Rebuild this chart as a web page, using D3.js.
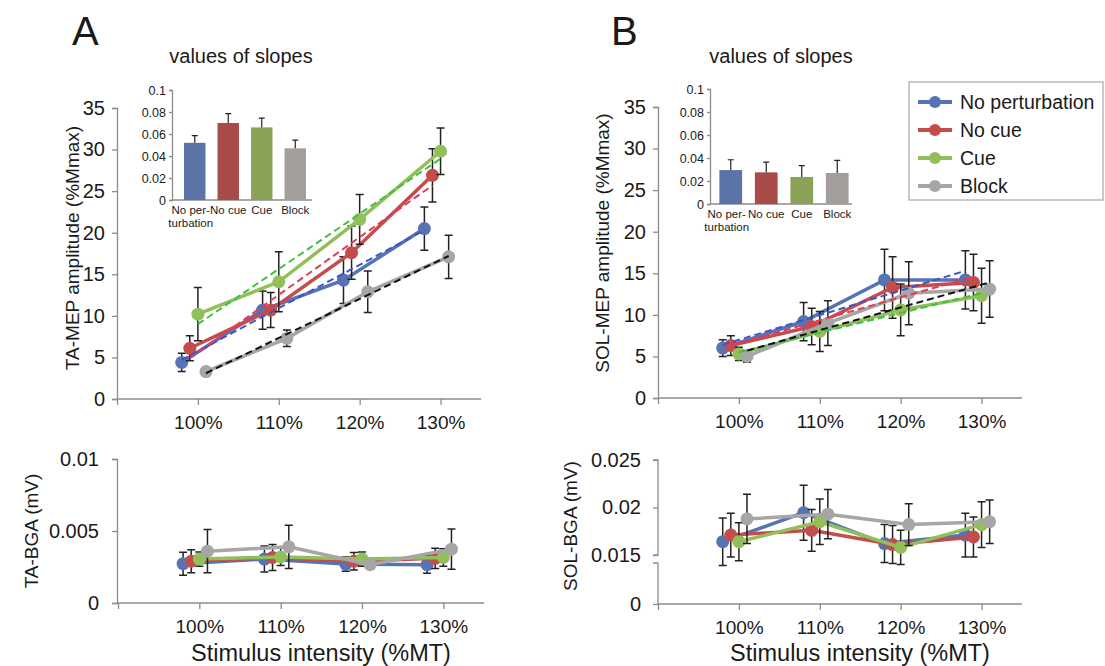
<!DOCTYPE html>
<html>
<head>
<meta charset="utf-8">
<script src="https://cdn.jsdelivr.net/npm/d3@7"></script>
<style>
  body { margin: 0; background: #fff; }
  svg { font-family: "Liberation Sans", Arial, sans-serif; }
</style>
</head>
<body>
<div id="chart"></div>
<script>
// conditions and stimulus intensities
const conditions = ['No perturbation', 'No cue', 'Cue', 'Block'];
const slopeLabels = [['No per-', 'turbation'], ['No cue'], ['Cue'], ['Block']];
const intensities = [100, 110, 120, 130];

// TA-MEP amplitude (%Mmax), one row per condition
const taMepMean = [
    [4.4, 10.7, 14.3, 20.5],
    [6.1, 10.7, 17.6, 26.9],
    [10.2, 14.1, 21.6, 29.8],
    [3.3, 7.3, 12.9, 17.1]
];
const taMepErr = [
    [1.1, 2.3, 2.8, 2.6],
    [1.5, 2.1, 3.2, 3.2],
    [3.2, 3.6, 3.0, 2.8],
    [0.5, 1.0, 2.5, 2.6]
];
// linear fit, value at first and last intensity
const taMepFit = [[4.7, 20.3], [4.9, 25.7], [9.0, 28.9], [3.1, 17.2]];

// SOL-MEP amplitude (%Mmax)
const solMepMean = [
    [6.0, 9.2, 14.2, 14.2],
    [6.3, 8.6, 13.3, 13.9],
    [5.3, 8.0, 10.6, 12.3],
    [5.0, 9.0, 12.6, 13.1]
];
const solMepErr = [
    [1.0, 2.3, 3.7, 3.5],
    [1.2, 2.2, 3.7, 3.4],
    [0.8, 2.4, 3.1, 3.3],
    [0.7, 2.7, 3.8, 3.4]
];
const solMepFit = [[6.4, 15.3], [6.3, 14.6], [5.5, 12.6], [5.7, 13.9]];

// values of slopes
const taSlope = [0.052, 0.070, 0.066, 0.047];
const taSlopeErr = [0.0065, 0.0085, 0.0085, 0.0075];
const solSlope = [0.0295, 0.0275, 0.0235, 0.027];
const solSlopeErr = [0.009, 0.009, 0.0098, 0.011];

// background EMG (mV)
const taBgaMean = [
    [0.00273, 0.00305, 0.0027, 0.00266],
    [0.0029, 0.00316, 0.0029, 0.0031],
    [0.00305, 0.0032, 0.00305, 0.00316],
    [0.0036, 0.0039, 0.00266, 0.00374]
];
const taBgaErr = [
    [0.0008, 0.0009, 0.0005, 0.0006],
    [0.0008, 0.0009, 0.0006, 0.0007],
    [0.0005, 0.0006, 0.0005, 0.0006],
    [0.0015, 0.0015, 0.0003, 0.0014]
];
const solBgaMean = [
    [0.0164, 0.01945, 0.0162, 0.0171],
    [0.0171, 0.0176, 0.0161, 0.0169],
    [0.0164, 0.0185, 0.0158, 0.0182],
    [0.0188, 0.0193, 0.0182, 0.0185]
];
const solBgaErr = [
    [0.0025, 0.0029, 0.002, 0.0023],
    [0.0023, 0.0022, 0.002, 0.0021],
    [0.002, 0.0024, 0.0018, 0.0024],
    [0.0026, 0.0026, 0.0022, 0.0023]
];

const lineColors = ['#5674b4', '#c44c4a', '#93bf5a', '#a6a6a6'];
const fitColors = ['#3d57c2', '#e6395a', '#3fc042', '#111111'];
const barColors = ['#5b73a7', '#a84b48', '#8aa257', '#a39d9b'];
const jitter = [-2, -1, 0, 1];
const axisColor = '#8c8c8c';

const svg = d3.select('#chart').append('svg')
    .attr('width', 1105)
    .attr('height', 666);

function styleAxis(g, fontSize) {
    g.select('.domain').attr('stroke', axisColor).attr('stroke-width', 1.3);
    g.selectAll('.tick line').attr('stroke', axisColor).attr('stroke-width', 1.3);
    g.selectAll('.tick text').attr('fill', '#1a1a1a').style('font-size', fontSize + 'px');
}

function drawSeries(x, y, mean, err, fit) {
    const layer = svg.append('g');
    mean.forEach((vals, s) => {
        const pts = vals.map((v, i) => ({ x: intensities[i] + jitter[s], v: v, e: err[s][i] }));
        const eg = layer.append('g');
        pts.forEach(p => {
            const y0 = y(p.v - p.e), y1 = y(p.v + p.e), cx = x(p.x);
            eg.append('path')
                .attr('d', `M${cx},${y0}V${y1}M${cx - 4},${y0}H${cx + 4}M${cx - 4},${y1}H${cx + 4}`)
                .attr('stroke', '#222').attr('stroke-width', 1.5).attr('fill', 'none');
        });
        layer.append('path')
            .datum(pts)
            .attr('d', d3.line().x(d => x(d.x)).y(d => y(d.v)))
            .attr('fill', 'none')
            .attr('stroke', lineColors[s])
            .attr('stroke-width', 3.5);
        layer.selectAll(null)
            .data(pts)
            .enter()
            .append('circle')
            .attr('cx', d => x(d.x))
            .attr('cy', d => y(d.v))
            .attr('r', 6.5)
            .attr('fill', lineColors[s]);
    });
    if (fit) {
        fit.forEach((f, s) => {
            layer.append('line')
                .attr('x1', x(intensities[0] + jitter[s]))
                .attr('x2', x(intensities[3] + jitter[s]))
                .attr('y1', y(f[0]))
                .attr('y2', y(f[1]))
                .attr('stroke', fitColors[s])
                .attr('stroke-width', 2)
                .attr('stroke-dasharray', '7,4');
        });
    }
}

function drawXAxis(x, yPos) {
    const g = svg.append('g')
        .attr('transform', `translate(0,${yPos})`)
        .call(d3.axisBottom(x)
            .tickValues([90].concat(intensities))
            .tickSize(6)
            .tickPadding(11)
            .tickFormat(d => d === 90 ? '' : d + '%'));
    g.select('.domain').attr('d', `M${x.range()[0]},0H${x.range()[1]}`);
    styleAxis(g, 19);
}

function drawMain(xRange, yRange, mean, err, fit) {
    const x = d3.scaleLinear().domain([90, 135]).range(xRange);
    const y = d3.scaleLinear().domain([0, 35]).range(yRange);
    const gy = svg.append('g')
        .attr('transform', `translate(${xRange[0]},0)`)
        .call(d3.axisLeft(y).tickValues(d3.range(0, 36, 5)).tickSize(5).tickPadding(7));
    styleAxis(gy, 20);
    drawXAxis(x, yRange[0]);
    drawSeries(x, y, mean, err, fit);
}

function drawInset(x0, xEnd, band, yRange, values, errs) {
    const y = d3.scaleLinear().domain([0, 0.1]).range(yRange);
    const x = d3.scaleBand().domain(d3.range(4)).range(band).paddingInner(0.36).paddingOuter(0.18);
    const gy = svg.append('g')
        .attr('transform', `translate(${x0},0)`)
        .call(d3.axisLeft(y).tickValues(d3.range(0, 0.101, 0.02)).tickSize(3).tickPadding(3)
            .tickFormat(d => d === 0 ? '0' : d3.format('.2~f')(d)));
    styleAxis(gy, 12.5);
    svg.append('line')
        .attr('x1', x0).attr('x2', xEnd)
        .attr('y1', yRange[0]).attr('y2', yRange[0])
        .attr('stroke', axisColor).attr('stroke-width', 1.3);
    values.forEach((v, i) => {
        const cx = x(i) + x.bandwidth() / 2;
        svg.append('rect')
            .attr('x', x(i))
            .attr('y', y(v))
            .attr('width', x.bandwidth())
            .attr('height', y(0) - y(v))
            .attr('fill', barColors[i]);
        const top = y(v + errs[i]);
        svg.append('path')
            .attr('d', `M${cx},${y(v)}V${top}M${cx - 3},${top}H${cx + 3}`)
            .attr('stroke', '#222').attr('stroke-width', 1.2).attr('fill', 'none');
        const t = svg.append('text')
            .attr('x', cx - (i === 0 ? 4 : 0))
            .attr('y', yRange[0] + 14)
            .attr('text-anchor', 'middle')
            .attr('fill', '#1a1a1a')
            .style('font-size', '11.5px');
        slopeLabels[i].forEach((line, k) => {
            t.append('tspan').attr('x', cx - (i === 0 ? 4 : 0)).attr('dy', k === 0 ? 0 : 13).text(line);
        });
    });
}

// ---- Panel A ----
drawMain([117, 481], [399, 108], taMepMean, taMepErr, taMepFit);
drawInset(172, 312, [178, 312], [200, 90], taSlope, taSlopeErr);

// ---- Panel B ----
drawMain([658, 1022], [398, 107], solMepMean, solMepErr, solMepFit);
drawInset(710, 852, [713, 855], [204, 89], solSlope, solSlopeErr);

// ---- bottom A: TA-BGA ----
{
    const x = d3.scaleLinear().domain([90, 135]).range([118, 484]);
    const y = d3.scaleLinear().domain([0, 0.01]).range([603, 459]);
    const gy = svg.append('g')
        .attr('transform', 'translate(117,0)')
        .call(d3.axisLeft(y).tickValues([0, 0.005, 0.01]).tickSize(5).tickPadding(13)
            .tickFormat(d => d === 0 ? '0' : String(d)));
    styleAxis(gy, 20);
    drawXAxis(x, 603);
    drawSeries(x, y, taBgaMean, taBgaErr, null);
}

// ---- bottom B: SOL-BGA, broken axis ----
{
    const x = d3.scaleLinear().domain([90, 135]).range([658, 1022]);
    const y = d3.scaleLinear().domain([0, 0.0135, 0.015, 0.025]).range([604, 569.25, 555, 460]);
    const gy = svg.append('g')
        .attr('transform', 'translate(658,0)')
        .call(d3.axisLeft(y).tickValues([0, 0.015, 0.02, 0.025]).tickSize(5).tickPadding(12)
            .tickFormat(d => d === 0 ? '0' : String(d)));
    gy.select('.domain').attr('d', `M-5,460H0V555H-5M-5,563H0V604`);
    gy.select('.domain').attr('fill', 'none');
    styleAxis(gy, 20);
    drawXAxis(x, 604);
    drawSeries(x, y, solBgaMean, solBgaErr, null);
}

// ---- labels ----
const labels = [
    { t: 'A', x: 72, y: 45, size: 40, anchor: 'start' },
    { t: 'B', x: 611, y: 45, size: 40, anchor: 'start' },
    { t: 'values of slopes', x: 241, y: 63, size: 20, anchor: 'middle' },
    { t: 'values of slopes', x: 781, y: 63, size: 20, anchor: 'middle' },
    { t: 'Stimulus intensity (%MT)', x: 321, y: 661, size: 23.5, anchor: 'middle' },
    { t: 'Stimulus intensity (%MT)', x: 860, y: 661, size: 23.5, anchor: 'middle' }
];
labels.forEach(l => {
    svg.append('text')
        .attr('x', l.x).attr('y', l.y)
        .attr('text-anchor', l.anchor)
        .attr('fill', '#1a1a1a')
        .style('font-size', l.size + 'px')
        .text(l.t);
});

const yLabels = [
    { t: 'TA-MEP amplitude (%Mmax)', x: 79, y: 248 },
    { t: 'SOL-MEP amplitude (%Mmax)', x: 609, y: 243 },
    { t: 'TA-BGA (mV)', x: 38, y: 531 },
    { t: 'SOL-BGA (mV)', x: 577, y: 526 }
];
yLabels.forEach(l => {
    svg.append('text')
        .attr('transform', `translate(${l.x},${l.y}) rotate(-90)`)
        .attr('text-anchor', 'middle')
        .attr('fill', '#1a1a1a')
        .style('font-size', '19px')
        .text(l.t);
});

// ---- legend ----
const legend = svg.append('g');
legend.append('rect')
    .attr('x', 909).attr('y', 82)
    .attr('width', 194).attr('height', 118)
    .attr('fill', '#fff')
    .attr('stroke', '#a8a8a8')
    .attr('stroke-width', 1.2);
const legendY = d3.scalePoint().domain(conditions).range([102, 186]);
conditions.forEach((c, i) => {
    const yy = legendY(c);
    legend.append('line')
        .attr('x1', 918).attr('x2', 952)
        .attr('y1', yy).attr('y2', yy)
        .attr('stroke', lineColors[i]).attr('stroke-width', 4);
    legend.append('circle')
        .attr('cx', 935).attr('cy', yy).attr('r', 6)
        .attr('fill', lineColors[i]);
    legend.append('text')
        .attr('x', 960).attr('y', yy)
        .attr('dy', '0.36em')
        .attr('fill', '#1a1a1a')
        .style('font-size', '19.5px')
        .text(c);
});
</script>
</body>
</html>
